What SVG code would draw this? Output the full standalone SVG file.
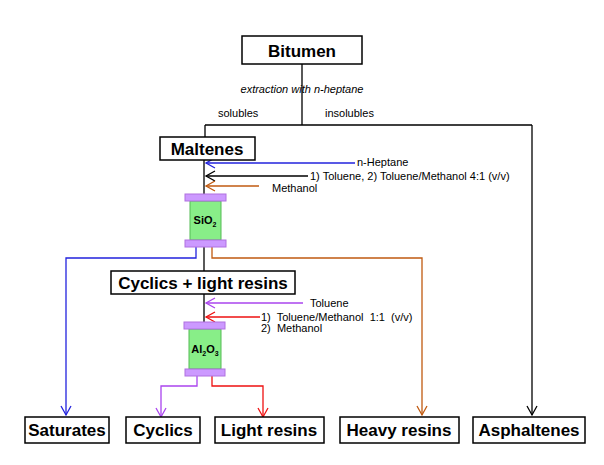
<svg xmlns="http://www.w3.org/2000/svg" width="604" height="465" viewBox="0 0 604 465">
<defs>
<style>
.box{fill:#fff;stroke:#000;stroke-width:1.5}
.bt{font-family:"Liberation Sans",Arial,sans-serif;font-weight:bold;font-size:17px;text-anchor:middle}
.st{font-family:"Liberation Sans",Arial,sans-serif;font-size:11px}
.ln{fill:none;stroke-width:1.3}
.cap{fill:#cc99ff;stroke:#b070e0}
.body{fill:#88ee88;stroke:#55bb55}
</style>
<marker id="ak" markerWidth="12" markerHeight="12" refX="10" refY="6" orient="auto" markerUnits="userSpaceOnUse"><path d="M1,1 L10,6 L1,11" fill="none" stroke="#000" stroke-width="1.3"/></marker>
<marker id="ab" markerWidth="12" markerHeight="12" refX="10" refY="6" orient="auto" markerUnits="userSpaceOnUse"><path d="M1,1 L10,6 L1,11" fill="none" stroke="#2222dd" stroke-width="1.3"/></marker>
<marker id="ao" markerWidth="12" markerHeight="12" refX="10" refY="6" orient="auto" markerUnits="userSpaceOnUse"><path d="M1,1 L10,6 L1,11" fill="none" stroke="#c05a10" stroke-width="1.3"/></marker>
<marker id="ap" markerWidth="12" markerHeight="12" refX="10" refY="6" orient="auto" markerUnits="userSpaceOnUse"><path d="M1,1 L10,6 L1,11" fill="none" stroke="#aa44ee" stroke-width="1.3"/></marker>
<marker id="ar" markerWidth="12" markerHeight="12" refX="10" refY="6" orient="auto" markerUnits="userSpaceOnUse"><path d="M1,1 L10,6 L1,11" fill="none" stroke="#ee1111" stroke-width="1.3"/></marker>
</defs>
<rect width="604" height="465" fill="#fff"/>
<g id="connectors">
<path class="ln" stroke="#000" d="M302,64 V125 M205,125 H532 M205,125 V137"/>
<path class="ln" stroke="#000" d="M532,125 V415" marker-end="url(#ak)"/>
<path class="ln" stroke="#000" d="M204,160 V194"/>
<path class="ln" stroke="#2222dd" d="M355,163 H206" marker-end="url(#ab)"/>
<path class="ln" stroke="#000" d="M308,176 H206" marker-end="url(#ak)"/>
<path class="ln" stroke="#c05a10" d="M259,186 H206" marker-end="url(#ao)"/>
<path class="ln" stroke="#2222dd" d="M196,247 V258 H66 V415" marker-end="url(#ab)"/>
<path class="ln" stroke="#000" d="M204,247 V271"/>
<path class="ln" stroke="#c05a10" d="M212,247 V258 H422 V415" marker-end="url(#ao)"/>
<path class="ln" stroke="#000" d="M204,294 V322"/>
<path class="ln" stroke="#aa44ee" d="M303,303 H206" marker-end="url(#ap)"/>
<path class="ln" stroke="#ee1111" d="M260,317 H206" marker-end="url(#ar)"/>
<path class="ln" stroke="#aa44ee" d="M197,376 V386 H161 V417" marker-end="url(#ap)"/>
<path class="ln" stroke="#ee1111" d="M212,376 V386 H263 V417" marker-end="url(#ar)"/>
</g>
<g id="labels">
<text class="st" x="302" y="93" text-anchor="middle" font-style="italic" font-size="12">extraction with n-heptane</text>
<text class="st" x="218" y="117" font-size="12">solubles</text>
<text class="st" x="325" y="117" font-size="12">insolubles</text>
<text class="st" x="357" y="166">n-Heptane</text>
<text class="st" x="310" y="180">1) Toluene, 2) Toluene/Methanol 4:1 (v/v)</text>
<text class="st" x="272" y="192">Methanol</text>
<text class="st" x="310" y="307">Toluene</text>
<text class="st" x="261" y="321" xml:space="preserve">1)  Toluene/Methanol  1:1  (v/v)</text>
<text class="st" x="261" y="332" xml:space="preserve">2)  Methanol</text>
</g>
<g id="bitumen"><rect class="box" x="242" y="36" width="120" height="28"/><text class="bt" x="302" y="57" font-size="20">Bitumen</text></g>
<g id="maltenes"><rect class="box" x="160" y="137" width="95" height="23"/><text class="bt" x="207" y="155">Maltenes</text></g>
<g id="sio2">
<rect class="body" x="190" y="201" width="31" height="39"/>
<rect class="cap" x="185" y="194" width="41" height="7"/>
<rect class="cap" x="185" y="240" width="41" height="7"/>
<text class="st" x="205" y="224" text-anchor="middle" font-weight="bold" font-size="12">SiO<tspan font-size="7" dy="3">2</tspan></text>
</g>
<g id="cyclics-light"><rect class="box" x="111" y="271" width="184" height="23"/><text class="bt" x="203" y="289">Cyclics + light resins</text></g>
<g id="al2o3">
<rect class="body" x="189" y="329" width="32" height="40"/>
<rect class="cap" x="184" y="322" width="41" height="7"/>
<rect class="cap" x="185" y="369" width="40" height="7"/>
<text class="st" x="205" y="353" text-anchor="middle" font-weight="bold" font-size="12">Al<tspan font-size="7" dy="3">2</tspan><tspan dy="-3">O</tspan><tspan font-size="7" dy="3">3</tspan></text>
</g>
<g id="saturates"><rect class="box" x="25" y="417" width="84" height="26"/><text class="bt" x="67" y="436">Saturates</text></g>
<g id="cyclics"><rect class="box" x="126" y="417" width="74" height="26"/><text class="bt" x="163" y="436">Cyclics</text></g>
<g id="light-resins"><rect class="box" x="215" y="417" width="109" height="26"/><text class="bt" x="269" y="436">Light resins</text></g>
<g id="heavy-resins"><rect class="box" x="340" y="417" width="119" height="26"/><text class="bt" x="399" y="436">Heavy resins</text></g>
<g id="asphaltenes"><rect class="box" x="473" y="417" width="112" height="26"/><text class="bt" x="529" y="436">Asphaltenes</text></g>
</svg>
